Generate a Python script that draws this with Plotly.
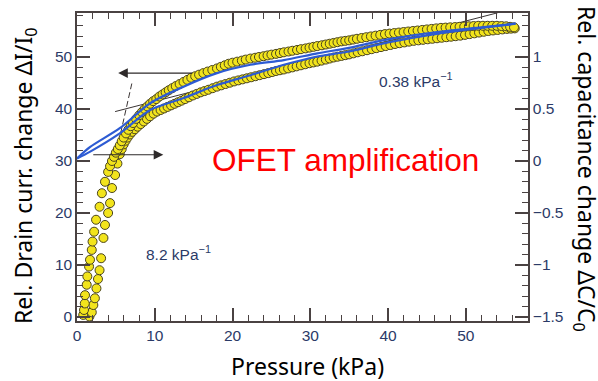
import plotly.graph_objects as go

# ---- data ----
# Drain-current branch 1 (left / upper branch): pressure (kPa), rel. current change
press_a = [0.8, 0.9, 1.0, 1.03, 1.25, 1.33, 1.55, 1.67, 1.9, 2.0, 2.2, 2.45, 2.9, 3.2, 3.6,
           4.0, 4.25, 4.5, 4.75, 5.0, 5.25, 5.5, 5.75, 6.0, 6.3, 6.6, 6.9, 7.2, 7.6, 8.0,
           8.35, 8.7, 9.05, 9.4, 9.8, 10.2, 10.6, 11.0, 11.4, 11.8, 12.25, 12.7, 13.2, 13.7,
           14.2, 14.7, 15.2, 15.7, 16.25, 16.8, 17.4, 18.0, 18.5, 19.0, 19.5, 20.0, 20.6,
           21.2, 21.7, 22.3, 22.9, 23.4, 24.0, 24.5, 25.0, 25.6, 26.1, 26.6, 27.2, 27.7,
           28.3, 28.8, 29.4, 29.9, 30.4, 30.9, 31.5, 32.0, 32.5, 33.0, 33.5, 34.0, 34.5,
           35.0, 35.5, 36.0, 36.6, 37.2, 37.8, 38.4, 39.0, 39.6, 40.2, 40.8, 41.4, 42.0,
           42.6, 43.2, 43.8, 44.4, 45.0, 45.6, 46.2, 46.8, 47.4, 48.0, 48.6, 49.2, 49.8,
           50.4, 51.0, 51.6, 52.2, 52.8, 53.4, 54.0, 54.6, 55.2, 55.7, 56.2]
curr_a = [0.4, 1.35, 2.6, 4.2, 6.2, 7.8, 9.7, 11.0, 12.9, 14.5, 16.4, 18.7, 21.2, 23.8, 26.0,
          27.9, 29.0, 30.0, 30.8, 31.6, 32.3, 33.0, 33.8, 34.5, 35.3, 36.0, 36.7, 37.3, 38.1,
          38.8, 39.4, 40.0, 40.5, 41.0, 41.5, 41.9, 42.4, 42.8, 43.2, 43.6, 44.0, 44.4, 44.8,
          45.2, 45.6, 46.0, 46.3, 46.6, 46.9, 47.2, 47.5, 47.8, 48.1, 48.4, 48.7, 48.9, 49.1,
          49.3, 49.5, 49.7, 49.85, 50.0, 50.15, 50.3, 50.45, 50.6, 50.75, 50.9, 51.05, 51.2,
          51.35, 51.5, 51.65, 51.8, 51.95, 52.1, 52.25, 52.4, 52.55, 52.7, 52.85, 53.0, 53.1,
          53.2, 53.35, 53.5, 53.65, 53.8, 53.95, 54.1, 54.25, 54.4, 54.5, 54.6, 54.7, 54.8,
          54.9, 55.0, 55.1, 55.2, 55.3, 55.4, 55.5, 55.6, 55.65, 55.7, 55.75, 55.8, 55.85,
          55.9, 55.95, 56.0, 56.0, 56.0, 56.0, 56.0, 55.95, 55.9, 55.8, 55.7]
# Drain-current branch 2 (right / lower branch)
press_b = [1.6, 1.9, 2.1, 2.3, 2.5, 2.7, 2.9, 3.1, 3.4, 3.6, 4.0, 4.25, 4.5, 4.9, 5.2, 5.5,
           5.75, 6.0, 6.25, 6.5, 6.8, 7.1, 7.45, 7.8, 8.2, 8.6, 9.0, 9.4, 9.85, 10.3, 10.75,
           11.2, 11.65, 12.1, 12.55, 13.0, 13.45, 13.9, 14.4, 14.9, 15.4, 15.9, 16.4, 16.9,
           17.45, 18.0, 18.55, 19.1, 19.65, 20.2, 20.75, 21.3, 21.85, 22.4, 22.95, 23.5,
           24.05, 24.6, 25.1, 25.6, 26.1, 26.6, 27.15, 27.7, 28.25, 28.8, 29.35, 29.9, 30.4,
           30.9, 31.45, 32.0, 32.5, 33.0, 33.5, 34.0, 34.5, 35.0, 35.55, 36.1, 36.7, 37.3,
           37.9, 38.5, 39.1, 39.7, 40.3, 40.9, 41.5, 42.1, 42.7, 43.3, 43.9, 44.5, 45.1,
           45.7, 46.3, 46.9, 47.5, 48.1, 48.7, 49.3, 49.9, 50.5, 51.1, 51.7, 52.3, 52.9,
           53.5, 54.1, 54.7, 55.3, 55.8, 56.3]
curr_b = [0.1, 0.9, 2.3, 3.6, 5.5, 7.3, 9.0, 11.3, 15.2, 17.7, 20.0, 21.9, 24.8, 27.3, 29.5,
          31.3, 32.3, 33.2, 33.9, 34.5, 35.1, 35.6, 36.1, 36.6, 37.1, 37.6, 38.1, 38.6, 39.1,
          39.5, 39.8, 40.1, 40.4, 40.7, 41.0, 41.3, 41.6, 41.9, 42.25, 42.6, 42.9, 43.2,
          43.45, 43.7, 44.0, 44.3, 44.55, 44.8, 45.05, 45.3, 45.5, 45.7, 45.9, 46.1, 46.3,
          46.5, 46.7, 46.9, 47.1, 47.3, 47.45, 47.6, 47.8, 48.0, 48.2, 48.4, 48.6, 48.8,
          48.95, 49.1, 49.3, 49.5, 49.7, 49.9, 50.05, 50.2, 50.35, 50.5, 50.7, 50.9, 51.1,
          51.3, 51.5, 51.7, 51.9, 52.1, 52.3, 52.5, 52.65, 52.8, 52.95, 53.1, 53.2, 53.3,
          53.4, 53.5, 53.6, 53.7, 53.8, 53.9, 54.0, 54.1, 54.25, 54.4, 54.55, 54.7, 54.85,
          55.0, 55.1, 55.2, 55.3, 55.4, 55.45, 55.5]
# Capacitance curves (right axis)
cap_x = [0, 1.7, 5.5, 9.4, 13.7, 18.0, 22.3, 26.6, 30.9, 34.8, 40.0, 46.8, 52.0, 56.4]
cap_up = [0.025, 0.135, 0.315, 0.555, 0.715, 0.845, 0.925, 0.97, 1.035, 1.085, 1.17, 1.245, 1.285, 1.32]
cap_dn = [0.025, 0.09, 0.265, 0.49, 0.605, 0.73, 0.825, 0.925, 1.005, 1.05, 1.14, 1.23, 1.28, 1.32]
# Tangent (sensitivity) lines
tan_low_x = [4.9, 54.1]
tan_low_y = [39.5, 58.5]
tan_high_x = [4.6, 7.05]
tan_high_y = [28.6, 44.9]
# Arrows (tail -> head)
arrow_left = dict(tail=(15.0, 46.9), head=(5.3, 46.9))
arrow_right = dict(tail=(1.9, 31.2), head=(11.1, 31.2))

x_range = [0, 58]
y_range = [-0.77, 58.46]
y2_range = [(y_range[0] - 30) / 20, (y_range[1] - 30) / 20]

AX = "#4a4242"
TICKC = "#2b3a67"
tickfont = dict(family="Liberation Sans, Arial, sans-serif", size=15.5, color=TICKC)
titlefont = dict(family="Noto Sans, Open Sans, sans-serif", size=23, color="black")

fig = go.Figure()

fig.add_trace(go.Scatter(x=tan_low_x, y=tan_low_y, mode="lines",
                         line=dict(color="#3a3434", width=1), showlegend=False, hoverinfo="skip"))
fig.add_trace(go.Scatter(x=tan_high_x, y=tan_high_y, mode="lines",
                         line=dict(color="#3a3434", width=1, dash="6px,3px"), showlegend=False,
                         hoverinfo="skip"))

marker = dict(size=9, color="#f2e41c", line=dict(color="#4a4420", width=1))
fig.add_trace(go.Scatter(x=press_b, y=curr_b, mode="markers", marker=marker, showlegend=False))
fig.add_trace(go.Scatter(x=press_a, y=curr_a, mode="markers", marker=marker, showlegend=False))

blue = dict(color="#2d5bd3", width=2.2, shape="spline", smoothing=0.8)
fig.add_trace(go.Scatter(x=cap_x, y=cap_up, mode="lines", line=blue, yaxis="y2", showlegend=False))
fig.add_trace(go.Scatter(x=cap_x, y=cap_dn, mode="lines", line=blue, yaxis="y2", showlegend=False))

common = dict(showline=True, linecolor=AX, linewidth=1.5, ticks="inside", ticklen=13,
              tickwidth=1.5, tickcolor=AX, showgrid=False, zeroline=False, tickfont=tickfont)

fig.update_layout(
    width=598, height=381,
    margin=dict(l=77, r=70, t=13, b=60),
    paper_bgcolor="white", plot_bgcolor="white",
    xaxis=dict(range=x_range, tick0=0, dtick=10, mirror="ticks",
               minor=dict(ticks="inside", ticklen=6, dtick=2, tickcolor=AX, tickwidth=1.2),
               **common),
    yaxis=dict(range=y_range, tick0=0, dtick=10, mirror=False,
               minor=dict(ticks="inside", ticklen=6, dtick=2, tickcolor=AX, tickwidth=1.2),
               **common),
    yaxis2=dict(range=y2_range, overlaying="y", side="right", tick0=0, dtick=0.5,
                minor=dict(ticks="inside", ticklen=6, dtick=0.1, tickcolor=AX, tickwidth=1.2),
                **common),
)

annotations = [
    dict(x=-0.1153, y=0.471, xref="paper", yref="paper", xanchor="center", yanchor="middle",
         textangle=-90, showarrow=False,
         text="Rel. Drain curr. change ΔI/I<sub>0</sub>", font=titlefont),
    dict(x=1.1286, y=0.4935, xref="paper", yref="paper", xanchor="center", yanchor="middle",
         textangle=90, showarrow=False,
         text="Rel. capacitance change ΔC/C<sub>0</sub>", font=titlefont),
    dict(x=0.51, y=-0.146, xref="paper", yref="paper", xanchor="center", yanchor="middle",
         showarrow=False, text="Pressure (kPa)", font=titlefont),
    dict(x=34.5, y=30.2, xref="x", yref="y", showarrow=False, text="OFET amplification",
         font=dict(family="Liberation Sans, Arial, sans-serif", size=31.5, color="#ff0000")),
    dict(x=43.6, y=45.6, xref="x", yref="y", showarrow=False, text="0.38 kPa<sup>−1</sup>",
         font=dict(family="Liberation Sans, Arial, sans-serif", size=15.5, color=TICKC)),
    dict(x=13.0, y=12.3, xref="x", yref="y", showarrow=False, text="8.2 kPa<sup>−1</sup>",
         font=dict(family="Liberation Sans, Arial, sans-serif", size=15.5, color=TICKC)),
]
for arr in (arrow_left, arrow_right):
    annotations.append(dict(x=arr["head"][0], y=arr["head"][1], ax=arr["tail"][0], ay=arr["tail"][1],
                            xref="x", yref="y", axref="x", ayref="y", text="", showarrow=True,
                            arrowhead=2, arrowsize=1.6, arrowwidth=1.2, arrowcolor="#2e2a2a"))
fig.update_layout(annotations=annotations)

fig.write_html("out.html")
